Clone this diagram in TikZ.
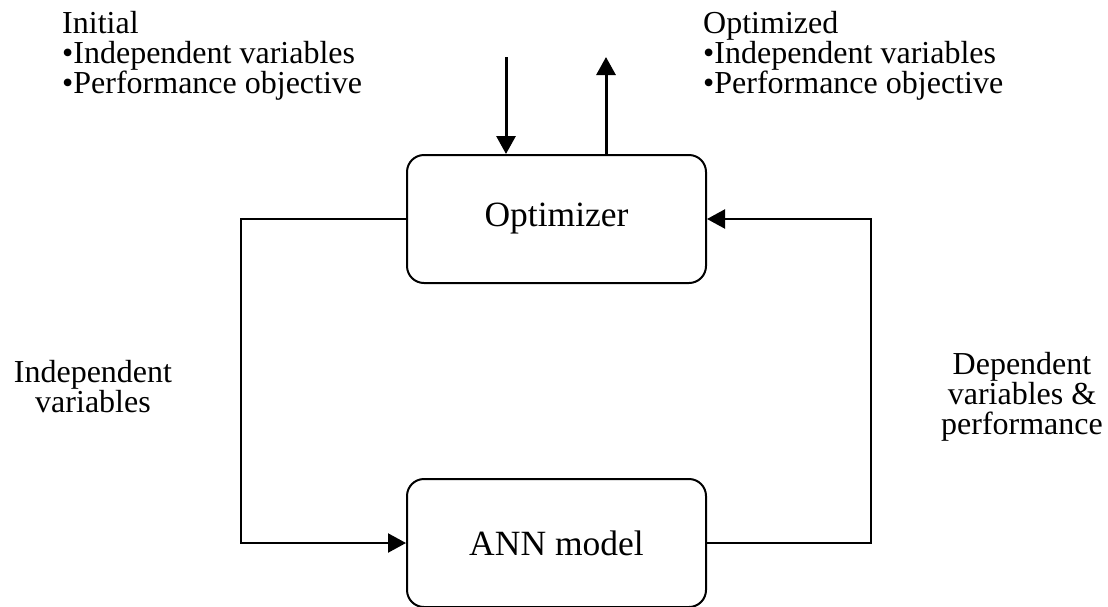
\documentclass[tikz,border=0pt]{standalone}
\usepackage{fontspec}
\setmainfont{Liberation Serif}
\usepackage{tikz}
\usetikzlibrary{arrows.meta, positioning}

\begin{document}
\begin{tikzpicture}[
x=1pt, y=-1pt,
node distance=194pt and 165pt,
every node/.style={font=\fontsize{32}{30}\selectfont},
boxnode/.style={rectangle, rounded corners=17pt, draw=black, line width=2pt,
minimum width=299pt, minimum height=128pt, font=\fontsize{35.5}{40}\selectfont},
labelnode/.style={align=center, inner sep=0pt},
listnode/.style={align=left, inner sep=0pt, anchor=north west},
arrownode/.style={-{Triangle[length=18pt, width=19pt]}, line width=2.2pt, black}
]
\useasboundingbox (0,0) rectangle (1108,606);

\node[boxnode] (optimizer) at (556.5,219) {Optimizer};
\node[boxnode, below=of optimizer] (ann) {ANN model};

\node[listnode] (initial) at (62,11) {Initial\\\textbullet Independent variables\\\textbullet Performance objective};
\node[listnode] (optimized) at (703,11) {Optimized\\\textbullet Independent variables\\\textbullet Performance objective};
\node[labelnode, anchor=north] (indep) at (93,360) {Independent\\variables};
\node[labelnode, anchor=north] (dep) at (1022,352) {Dependent\\variables \&\\performance};

\coordinate (initin) at (506,57);
\coordinate (optout) at (606,57);

\draw[arrownode, line width=3pt] (initin) -- (initin |- optimizer.north);
\draw[arrownode, line width=3pt] (optout |- optimizer.north) -- (optout);
\draw[arrownode] (optimizer.west) -- ++(-165,0) |- (ann.west);
\draw[arrownode] (ann.east) -- ++(164,0) |- (optimizer.east);

\end{tikzpicture}
\end{document}
